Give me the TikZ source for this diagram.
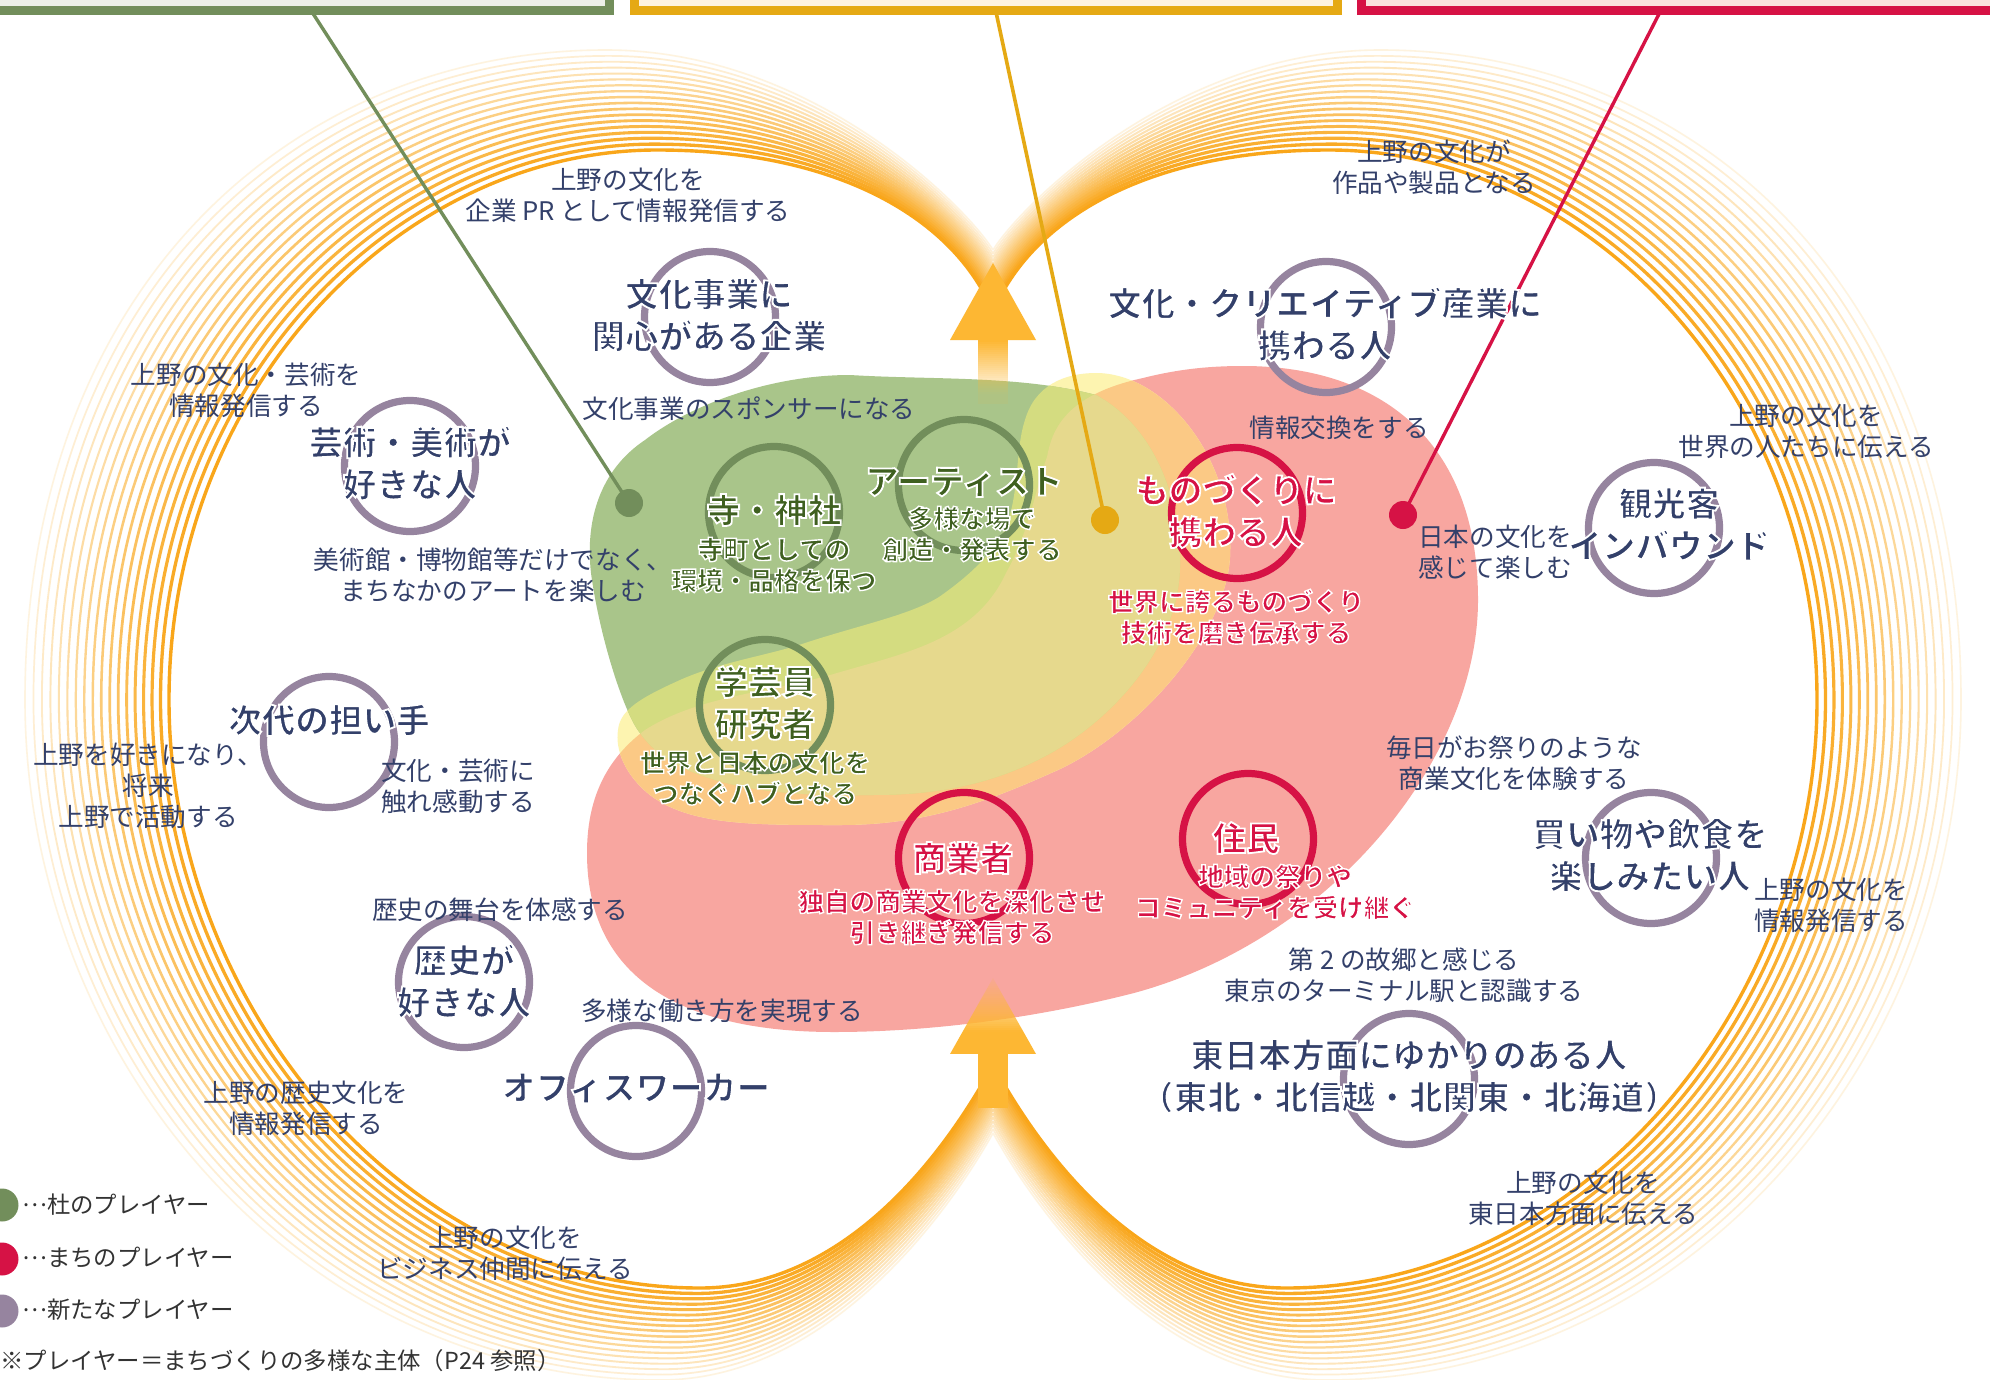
\documentclass[tikz,border=0pt]{standalone}
\usepackage{fontspec}
\setmainfont{Noto Sans CJK JP}
\definecolor{navy}{HTML}{33406A}
\definecolor{gtext}{HTML}{3F6020}
\definecolor{rtext}{HTML}{D61245}
\definecolor{purp}{HTML}{96849F}
\definecolor{gring}{HTML}{728E5B}
\definecolor{oline}{HTML}{E5A914}
\definecolor{ringor}{HTML}{F9A61A}
\definecolor{arr}{HTML}{FDB733}
\definecolor{bgreen}{HTML}{A9C58A}
\definecolor{byellow}{HTML}{FDF4B0}
\definecolor{bred}{HTML}{F8A6A0}
\definecolor{blime}{HTML}{D4DC80}
\definecolor{borange}{HTML}{FBC985}
\definecolor{btriple}{HTML}{E6D98D}
\definecolor{legtext}{HTML}{333333}
\definecolor{gpale}{HTML}{ECF0E8}
\definecolor{opale}{HTML}{FDF2E0}
\definecolor{rpale}{HTML}{FBE2DE}
\def\hw{0.6}
\newcommand\hl[2]{\special{pdf:code 1 1 1 RG 2 Tr \hw\space w}\special{pdf:bcolor [#1] [1 1 1]}#2\special{pdf:ecolor}\special{pdf:code 0 Tr}}
\newcommand\hn[1]{\hl{0.2 0.251 0.416}{#1}}
\newcommand\hg[1]{\hl{0.247 0.376 0.125}{#1}}
\newcommand\hr[1]{\hl{0.839 0.071 0.271}{#1}}
\newcommand\ld{\raisebox{0.33em}{…}}
\tikzset{
 lab/.style={align=center,inner sep=0pt},
 small/.style={lab,font=\fontsize{12.8pt}{15.5pt}\selectfont},
 hsmall/.style={lab,font=\def\hw{0.7}\fontsize{12.8pt}{15.5pt}\selectfont\bfseries},
 big/.style={lab,font=\def\hw{0.9}\fontsize{16.8pt}{21pt}\selectfont\bfseries},
 nsm/.style={small,text=navy},
 nbg/.style={big,text=navy},
 gsm/.style={hsmall,text=gtext},
 gbg/.style={big,text=gtext},
 rsm/.style={hsmall,text=rtext},
 rbg/.style={big,text=rtext},
 pl/.style={circle,draw=#1,line width=3.6pt,minimum size=65.5pt,inner sep=0pt},
 dot/.style={circle,fill=#1,inner sep=0pt,minimum size=14pt},
 leg/.style={inner sep=0pt,text=legtext,anchor=west,font=\fontsize{11.7pt}{14pt}\selectfont},
 topbox/.style={line width=4.5pt},
}
\newcommand\lp[5]{\coordinate (#1) at ({#2+((#4)-(#2))*\t},{#3+((#5)-(#3))*\t});}
\newcommand\ringcurve{%
 \lp{a}{993}{312}{993}{250}
 \lp{b}{955}{220}{965}{205}
 \lp{c}{840}{150}{810}{50}
 \lp{d}{657}{150}{606}{50}
 \lp{e}{400}{150}{290}{50}
 \lp{f}{169}{390}{25}{290}
 \lp{g}{169}{700}{25}{700}
 \lp{h}{169}{1000}{25}{1060}
 \lp{i}{400}{1288}{300}{1380}
 \lp{j}{700}{1288}{660}{1380}
 \lp{k}{830}{1288}{830}{1380}
 \lp{l}{930}{1180}{950}{1210}
 \lp{m}{993}{1065}{993}{1133}
 \draw[line width=\lw pt,draw=ringor!\pc!white] (a) .. controls (b) and (c) .. (d) .. controls (e) and (f) .. (g) .. controls (h) and (i) .. (j) .. controls (k) and (l) .. (m);
}
\def\greenblob{(850,375) .. controls (930,380) and (1020,375) .. (1096,395) .. controls (1160,430) and (1182,510) .. (1180,567) .. controls (1178,650) and (1110,720) .. (1051,753) .. controls (990,787) and (930,795) .. (872,795) .. controls (790,797) and (680,790) .. (640,733) .. controls (625,715) and (600,640) .. (591,573) .. controls (585,520) and (600,470) .. (645,440) .. controls (690,405) and (770,375) .. (850,375) -- cycle}
\def\yellowblob{(618,730) .. controls (620,710) and (640,698) .. (680,680) .. controls (720,662) and (770,655) .. (805,643) .. controls (860,625) and (910,615) .. (939,597) .. controls (985,565) and (1000,540) .. (1006,527) .. controls (1020,490) and (1015,450) .. (1025,420) .. controls (1035,385) and (1065,373) .. (1096,373) .. controls (1165,373) and (1235,460) .. (1230,557) .. controls (1225,640) and (1130,740) .. (1051,773) .. controls (980,805) and (920,825) .. (840,825) .. controls (750,825) and (690,825) .. (650,795) .. controls (625,775) and (615,750) .. (618,730) -- cycle}
\def\redblob{(1243,366) .. controls (1380,366) and (1478,440) .. (1478,600) .. controls (1478,760) and (1330,940) .. (1134,993) .. controls (1060,1012) and (950,1032) .. (834,1032) .. controls (700,1032) and (587,990) .. (587,853) .. controls (587,800) and (605,760) .. (645,730) .. controls (700,695) and (770,693) .. (837,673) .. controls (905,653) and (975,640) .. (1006,573) .. controls (1030,530) and (1035,490) .. (1047,457) .. controls (1052,430) and (1065,395) .. (1143,378) .. controls (1175,370) and (1205,366) .. (1243,366) -- cycle}
\begin{document}
\begin{tikzpicture}[x=0.5pt,y=-0.5pt]
\useasboundingbox (0,0) rectangle (1990,1380);
\clip (0,0) rectangle (1990,1380);
\fill[white] (0,0) rectangle (1990,1380);
% rings
\foreach \i in {17,16,...,0}{
 \pgfmathsetmacro\t{\i/17}
 \pgfmathsetmacro\lw{1.7-0.9*\t}
 \pgfmathsetmacro\pc{100-86*\t}
 \ringcurve
 \begin{scope}[shift={(1986,0)},xscale=-1]
  \ringcurve
 \end{scope}
}
% boxes
\draw[topbox,draw=gring,fill=gpale] (-20,-20) rectangle (609,10.5);
\draw[topbox,draw=oline,fill=opale] (634,-20) rectangle (1337,10.5);
\draw[topbox,draw=rtext,fill=rpale] (1361,-20) rectangle (2020,10.5);
% blobs
\fill[bred] \redblob;
\fill[byellow] \yellowblob;
\fill[bgreen] \greenblob;
\begin{scope}
 \clip \redblob;
 \fill[borange] \yellowblob;
\end{scope}
\begin{scope}
 \clip \yellowblob;
 \fill[blime] \greenblob;
 \clip \redblob;
 \fill[btriple] \greenblob;
\end{scope}
% arrows
\fill[arr] (993,263) -- (1036,340) -- (950,340) -- cycle;
\foreach \k in {0,...,31}{
 \pgfmathsetmacro\op{max(0.08,1-\k/29)}
 \fill[arr,opacity=\op] (978,340+2*\k) rectangle (1008,342+2*\k);
}
\begin{scope}
 \clip (993,978) -- (1036,1054) -- (950,1054) -- cycle;
 \foreach \k in {0,...,37}{
  \pgfmathsetmacro\op{min(1,0.12+\k/30)}
  \fill[arr,opacity=\op] (940,978+2*\k) rectangle (1046,980+2*\k);
 }
\end{scope}
\fill[arr] (978,1054) rectangle (1008,1108);
% dots and leaders
\coordinate (gtop) at (312,12);
\coordinate (otop) at (996,12);
\coordinate (rtop) at (1660,12);
\node[dot=gring] (gdot) at (629,503) {};
\node[dot=oline] (odot) at (1105,520) {};
\node[dot=rtext] (rdot) at (1403,515) {};
\draw[gring,line width=1.7pt] (gtop) -- (gdot.center);
\draw[oline,line width=1.8pt] (otop) -- (odot.center);
\draw[rtext,line width=1.7pt] (rtop) -- (rdot.center);
% player circles
\node[pl=purp] (c1) at (710,317) {};
\node[pl=purp] (c2) at (1326,327) {};
\node[pl=purp] (c3) at (410,466) {};
\node[pl=purp] (c4) at (1654,528) {};
\node[pl=purp] (c5) at (329,742) {};
\node[pl=purp] (c6) at (1651,858) {};
\node[pl=purp] (c7) at (464,982) {};
\node[pl=purp] (c8) at (636,1091) {};
\node[pl=purp] (c9) at (1409,1079) {};
\node[pl=gring] (g1) at (774,512) {};
\node[pl=gring] (g2) at (964,485) {};
\node[pl=gring] (g3) at (765,705) {};
\node[pl=rtext] (r1) at (1237,513) {};
\node[pl=rtext] (r2) at (964,858) {};
\node[pl=rtext] (r3) at (1248,839) {};
% small labels
\node[nsm] (t1) at (628,195) {上野の文化を\\企業 PR として情報発信する};
\node[nsm] (t2) at (1434,167) {上野の文化が\\作品や製品となる};
\node[nsm] (t3) at (246,390) {上野の文化・芸術を\\情報発信する};
\node[nsm] (t4) at (749,409) {文化事業のスポンサーになる};
\node[nsm] (t5) at (1339,428) {情報交換をする};
\node[nsm] (t6) at (1806,431) {上野の文化を\\世界の人たちに伝える};
\node[nsm] (t7) at (493,575) {美術館・博物館等だけでなく、\\まちなかのアートを楽しむ};
\node[nsm] (t8) at (1495,552) {日本の文化を\\感じて楽しむ};
\node[nsm] (t9) at (148,786) {上野を好きになり、\\将来\\上野で活動する};
\node[nsm] (t10) at (458,786) {文化・芸術に\\触れ感動する};
\node[nsm] (t11) at (1514,763) {毎日がお祭りのような\\商業文化を体験する};
\node[nsm] (t12) at (500,910) {歴史の舞台を体感する};
\node[nsm] (t13) at (1831,905) {上野の文化を\\情報発信する};
\node[nsm] (t14) at (1404,975) {第 2 の故郷と感じる\\東京のターミナル駅と認識する};
\node[nsm] (t15) at (722,1011) {多様な働き方を実現する};
\node[nsm] (t16) at (306,1108) {上野の歴史文化を\\情報発信する};
\node[nsm] (t17) at (1583,1198) {上野の文化を\\東日本方面に伝える};
\node[nsm] (t18) at (505,1253) {上野の文化を\\ビジネス仲間に伝える};
% big labels
\node[nbg] (b1) at (709,315) {\hn{文化事業に\\関心がある企業}};
\node[nbg] (b2) at (1325,324) {\hn{文化・クリエイティブ産業に\\携わる人}};
\node[nbg] (b3) at (410,463) {\hn{芸術・美術が\\好きな人}};
\node[nbg] (b4) at (1669,524) {\hn{観光客\\インバウンド}};
\node[nbg] (b5) at (329,720) {\hn{次代の担い手}};
\node[nbg] (b6) at (1650,855) {\hn{買い物や飲食を\\楽しみたい人}};
\node[nbg] (b7) at (464,981) {\hn{歴史が\\好きな人}};
\node[nbg] (b8) at (636,1088) {\hn{オフィスワーカー}};
\node[nbg] (b9) at (1409,1076) {\hn{東日本方面にゆかりのある人\\（東北・北信越・北関東・北海道）}};
\node[gbg] (gb1) at (774,510) {\hg{寺・神社}};
\node[gbg] (gb2) at (964,482) {\hg{アーティスト}};
\node[gbg] (gb3) at (765,703) {\hg{学芸員\\研究者}};
\node[gsm] (gs1) at (774,565) {\hg{寺町としての\\環境・品格を保つ}};
\node[gsm] (gs2) at (972,534) {\hg{多様な場で\\創造・発表する}};
\node[gsm] (gs3) at (755,778) {\hg{世界と日本の文化を\\つなぐハブとなる}};
\node[rbg] (rb1) at (1236,511) {\hr{ものづくりに\\携わる人}};
\node[rbg] (rb2) at (963,858) {\hr{商業者}};
\node[rbg] (rb3) at (1246,838) {\hr{住民}};
\node[rsm] (rs1) at (1236,617) {\hr{世界に誇るものづくり\\技術を磨き伝承する}};
\node[rsm] (rs2) at (952,917) {\hr{独自の商業文化を深化させ\\引き継ぎ発信する}};
\node[rsm] (rs3) at (1275,892) {\hr{地域の祭りや\\コミュニティを受け継ぐ}};
% legend
\node[dot=gring,minimum size=16.5pt] (l1) at (2,1205) {};
\node[dot=rtext,minimum size=16.5pt] (l2) at (2,1259) {};
\node[dot=purp,minimum size=16.5pt] (l3) at (2,1311) {};
\node[leg] (lt1) at (22,1205) {\ld 杜のプレイヤー};
\node[leg] (lt2) at (22,1258) {\ld まちのプレイヤー};
\node[leg] (lt3) at (22,1310) {\ld 新たなプレイヤー};
\node[leg] (lt4) at (0,1361) {※プレイヤー＝まちづくりの多様な主体（P24 参照）};
\end{tikzpicture}
\end{document}
